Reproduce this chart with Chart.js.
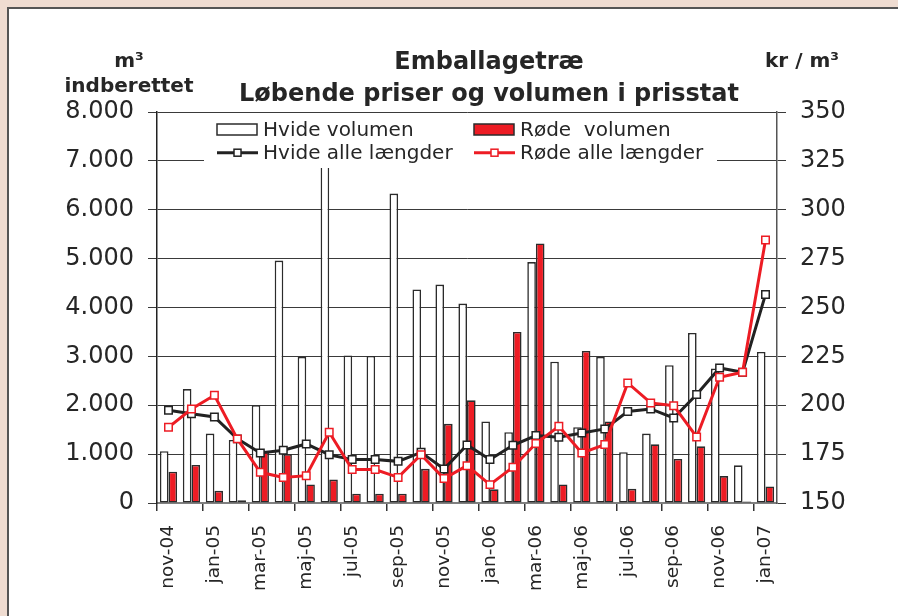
<!DOCTYPE html>
<html>
<head>
<meta charset="utf-8">
<script src="https://cdn.jsdelivr.net/npm/chart.js@4"></script>
<style>
  html, body { margin: 0; padding: 0; width: 898px; height: 616px; overflow: hidden; background: #fff }
  .kant { position: absolute; background: #efdcd1 }
  #top { left: 0; top: 0; width: 898px; height: 7px }
  #venstre { left: 0; top: 0; width: 7px; height: 616px }
  #wrap { position: absolute; left: 7px; top: 7px; width: 905px; height: 609px;
          border-left: 2px solid #555; border-top: 2px solid #555 }
  canvas { display: block }
</style>
</head>
<body>
<div class="kant" id="top"></div>
<div class="kant" id="venstre"></div>
<div id="wrap"><canvas id="c" width="905" height="607"></canvas></div>
<script>
// data
const maaneder = ['nov-04','dec-04','jan-05','feb-05','mar-05','apr-05','maj-05','jun-05','jul-05','aug-05',
  'sep-05','okt-05','nov-05','dec-05','jan-06','feb-06','mar-06','apr-06','maj-06','jun-06',
  'jul-06','aug-06','sep-06','okt-06','nov-06','dec-06','jan-07']

const hvideVolumen = [1060, 2330, 1420, 1290, 2000, 4960, 2990, 7400, 3020, 3010, 6330, 4370, 4470, 4080,
  1670, 1450, 4930, 2890, 1550, 2990, 1040, 1420, 2820, 3480, 2750, 770, 3090]
const roedeVolumen = [640, 780, 250, 55, 1070, 1000, 380, 480, 190, 190, 190, 700, 1620, 2100,
  280, 3500, 5310, 380, 3110, 1670, 290, 1200, 900, 1160, 550, 30, 340]
const hvideAlle = [197.4, 195.6, 194.0, 182.8, 175.6, 177.0, 180.2, 174.7, 172.2, 172.2, 171.3, 175.9, 167.4, 179.7,
  172.2, 179.5, 184.5, 183.6, 185.8, 187.9, 196.8, 198.1, 193.5, 205.5, 219.1, 216.9, 256.7]
const roedeAlle = [188.7, 198.1, 205.1, 182.8, 165.7, 163.1, 164.0, 186.2, 167.1, 167.1, 163.1, 174.7, 162.5, 169.1,
  159.4, 168.3, 180.4, 189.2, 175.6, 179.9, 211.4, 201.2, 199.8, 183.8, 214.3, 216.9, 284.5]

const venstreTicks = ['0','1.000','2.000','3.000','4.000','5.000','6.000','7.000','8.000']
const hoejreTicks = ['150','175','200','225','250','275','300','325','350']

const FONT = '"DejaVu Sans", Verdana, sans-serif'
const INK = '#262626'
const ROED = '#ed1c24'

// legende og enhedstekster tegnes selv (Excel-look, legenden ligger inde i plotfeltet)
const legendeTegner = {
  id: 'legendeTegner',
  afterDatasetsDraw(chart) {
    const c = chart.ctx
    const slot = [[0,0],[1,0],[0,1],[1,1]]
    const colX = [208, 465], rowY = [120.5, 143.7]
    c.save()
    c.fillStyle = '#fff'
    c.fillRect(195, 106, 513, 53)
    c.font = '20px ' + FONT
    c.textBaseline = 'middle'
    chart.data.datasets.forEach((ds, i) => {
      const x = colX[slot[i][0]], y = rowY[slot[i][1]]
      if (ds.type === 'bar') {
        c.fillStyle = ds.backgroundColor
        c.fillRect(x, y - 5.5, 40, 11)
        c.strokeStyle = ds.borderColor
        c.lineWidth = 1.5
        c.strokeRect(x, y - 5.5, 40, 11)
      } else {
        c.strokeStyle = ds.borderColor
        c.lineWidth = ds.borderWidth
        c.beginPath(); c.moveTo(x, y); c.lineTo(x + 41, y); c.stroke()
        c.fillStyle = '#fff'
        c.fillRect(x + 17, y - 3.5, 7, 7)
        c.lineWidth = 1.5
        c.strokeStyle = ds.pointBorderColor
        c.strokeRect(x + 17, y - 3.5, 7, 7)
      }
      c.fillStyle = INK
      c.fillText(ds.label, x + 46, y + 1)
    })
    c.restore()
  },
  afterDraw(chart) {
    const c = chart.ctx
    c.save()
    c.font = 'bold 20px ' + FONT
    c.fillStyle = INK
    c.textAlign = 'center'
    c.textBaseline = 'middle'
    c.fillText('m³', 120, 53)
    c.fillText('indberettet', 120, 78)
    c.fillText('kr / m³', 793, 53)
    c.restore()
  }
}

new Chart(document.getElementById('c'), {
  data: {
    labels: maaneder,
    datasets: [
      { type: 'bar', label: 'Hvide volumen', data: hvideVolumen, yAxisID: 'y',
        backgroundColor: '#ffffff', borderColor: '#2b2b2b', borderWidth: 1.6, borderSkipped: false,
        categoryPercentage: 0.75, barPercentage: 1, order: 2 },
      { type: 'bar', label: 'Røde  volumen', data: roedeVolumen, yAxisID: 'y',
        backgroundColor: ROED, borderColor: '#2b2b2b', borderWidth: 1.6, borderSkipped: false,
        categoryPercentage: 0.75, barPercentage: 1, order: 3 },
      { type: 'line', label: 'Hvide alle længder', data: hvideAlle, yAxisID: 'y2',
        borderColor: '#222222', borderWidth: 3, tension: 0,
        pointStyle: 'rect', pointRadius: 5.3, pointBackgroundColor: '#fff',
        pointBorderColor: '#222222', pointBorderWidth: 1.5, order: 1 },
      { type: 'line', label: 'Røde alle længder', data: roedeAlle, yAxisID: 'y2',
        borderColor: ROED, borderWidth: 3, tension: 0,
        pointStyle: 'rect', pointRadius: 5.3, pointBackgroundColor: '#fff',
        pointBorderColor: ROED, pointBorderWidth: 1.5, order: 0 }
    ]
  },
  options: {
    responsive: false,
    animation: false,
    // lærredet går ud over vinduet; padding holder titlen centreret over plottet
    layout: { padding: { left: 56, right: 1, top: 0, bottom: 0 } },
    plugins: {
      legend: { display: false },
      tooltip: { enabled: false },
      title: {
        display: true,
        text: ['Emballagetræ', 'Løbende priser og volumen i prisstat'],
        color: INK,
        font: { family: FONT, size: 24, weight: 'bold', lineHeight: 32 / 24 },
        padding: { top: 38, bottom: 1 }
      }
    },
    scales: {
      x: {
        offset: true,
        grid: {
          offset: true, drawOnChartArea: false, drawTicks: true, tickLength: 8, lineWidth: 1.5,
          color: (ctx) => ctx.index % 2 === 0 ? '#333' : 'rgba(0,0,0,0)'
        },
        border: { color: '#808080', width: 2 },
        ticks: {
          autoSkip: false, maxRotation: 90, minRotation: 90, padding: 14,
          color: INK, font: { family: FONT, size: 18.5 },
          callback: (v, i) => i % 2 === 0 ? maaneder[i] : ''
        },
        afterFit: (s) => { s.height = 113 }
      },
      y: {
        position: 'left', min: 0, max: 8000,
        grid: { color: '#3a3a3a', lineWidth: 1, tickLength: 9 },
        border: { color: '#222', width: 1.5 },
        ticks: {
          stepSize: 1000, padding: 14, color: INK, font: { family: FONT, size: 24 },
          callback: (v) => venstreTicks[Math.round(v / 1000)]
        },
        afterFit: (s) => { s.width = 92 }
      },
      y2: {
        position: 'right', min: 150, max: 350,
        grid: { drawOnChartArea: false, tickLength: 9, color: '#3a3a3a' },
        border: { color: '#555', width: 1.5 },
        ticks: {
          stepSize: 25, padding: 14, color: INK, font: { family: FONT, size: 24 },
          callback: (v) => hoejreTicks[Math.round((v - 150) / 25)]
        },
        afterFit: (s) => { s.width = 136 }
      }
    }
  },
  plugins: [legendeTegner]
})
</script>
</body>
</html>
